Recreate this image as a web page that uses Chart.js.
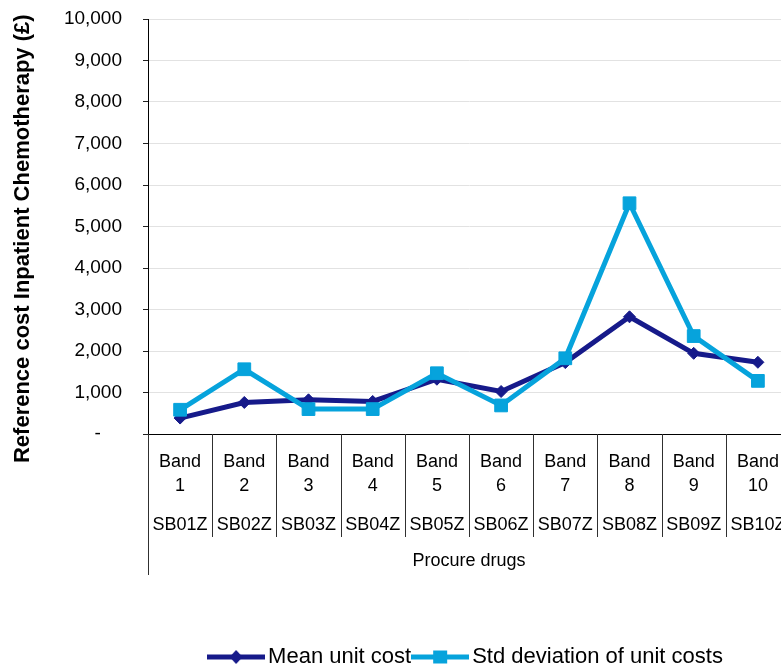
<!DOCTYPE html>
<html>
<head>
<meta charset="utf-8">
<title>Reference cost Inpatient Chemotherapy</title>
<script src="https://cdn.jsdelivr.net/npm/chart.js@4.4.1/dist/chart.umd.min.js"></script>
<style>
  html, body { margin: 0; padding: 0; background: #fff; overflow: hidden; }
  #wrap { position: relative; width: 800px; height: 678px; }
</style>
</head>
<body>
<div id="wrap"><canvas id="chart" width="800" height="678"></canvas></div>
<script>
// Chemotherapy bands (two-line labels) and their HRG codes
const bandLabels = [
  ['Band', '1'], ['Band', '2'], ['Band', '3'], ['Band', '4'], ['Band', '5'],
  ['Band', '6'], ['Band', '7'], ['Band', '8'], ['Band', '9'], ['Band', '10']
];
const codeLabels = ['SB01Z', 'SB02Z', 'SB03Z', 'SB04Z', 'SB05Z', 'SB06Z', 'SB07Z', 'SB08Z', 'SB09Z', 'SB10Z'];
const groupTitle = 'Procure drugs';

// Reference cost per band (£)
const meanUnitCost = [384, 760, 824, 784, 1320, 1024, 1720, 2824, 1944, 1728];
const stdDevUnitCost = [584, 1560, 600, 600, 1464, 688, 1824, 5560, 2360, 1280];
const seriesNames = ['Mean unit cost', 'Std deviation of unit costs'];

// Value axis
const yTickLabels = ['-', '1,000', '2,000', '3,000', '4,000', '5,000', '6,000', '7,000', '8,000', '9,000', '10,000'];
const yTitle = 'Reference cost Inpatient Chemotherapy (£)';

const FONT = "'Liberation Sans', Arial, sans-serif";
const NAVY = '#161a8a';
const CYAN = '#06a3dc';

// Legend symbol: a short line with the series marker in the middle
function legendSymbol(color, marker) {
  const c = document.createElement('canvas');
  c.width = 58; c.height = 16;
  const g = c.getContext('2d');
  g.strokeStyle = color; g.fillStyle = color; g.lineWidth = 5;
  g.beginPath(); g.moveTo(0, 8); g.lineTo(58, 8); g.stroke();
  g.beginPath();
  if (marker === 'diamond') {
    g.moveTo(29, 1); g.lineTo(35.5, 8); g.lineTo(29, 15); g.lineTo(22.5, 8);
  } else {
    g.rect(22, 1.5, 14, 13);
  }
  g.closePath(); g.fill();
  return c;
}
const symbols = [legendSymbol(NAVY, 'diamond'), legendSymbol(CYAN, 'square')];

// Vertical dividers between the band columns under the x axis
const bandDividers = {
  id: 'bandDividers',
  afterDraw(chart) {
    const { ctx, chartArea, scales } = chart;
    const x = scales.x, x2 = scales.x2;
    const n = x.ticks.length;
    const half = (x.getPixelForTick(1) - x.getPixelForTick(0)) / 2;
    const rowBottom = x2.top + 23;
    ctx.save();
    ctx.strokeStyle = '#303030';
    ctx.lineWidth = 1;
    ctx.beginPath();
    for (let i = 1; i <= n; i++) {
      const px = Math.round(x.getPixelForTick(i - 1) + half) + 0.5;
      ctx.moveTo(px, chartArea.bottom);
      ctx.lineTo(px, rowBottom);
    }
    const left = Math.round(chartArea.left - 0.5) + 0.5;
    ctx.moveTo(left, chartArea.bottom);
    ctx.lineTo(left, x2.top + 61);
    ctx.stroke();
    ctx.restore();
  }
};

new Chart(document.getElementById('chart'), {
  type: 'line',
  data: {
    labels: bandLabels,
    datasets: [
      {
        label: seriesNames[0],
        data: meanUnitCost,
        borderColor: NAVY,
        backgroundColor: NAVY,
        borderWidth: 5,
        pointStyle: 'rectRot',
        pointRadius: 6,
        pointBorderWidth: 1,
        pointBorderColor: NAVY,
        pointBackgroundColor: NAVY,
        tension: 0,
        order: 1
      },
      {
        label: seriesNames[1],
        data: stdDevUnitCost,
        borderColor: CYAN,
        backgroundColor: CYAN,
        borderWidth: 5,
        pointStyle: 'rect',
        pointRadius: 9,
        pointBorderWidth: 1,
        pointBorderColor: CYAN,
        pointBackgroundColor: CYAN,
        tension: 0,
        order: 0
      }
    ]
  },
  options: {
    responsive: false,
    animation: false,
    events: [],
    layout: { padding: { left: 0, right: 7, top: 19, bottom: 0 } },
    plugins: {
      tooltip: { enabled: false },
      legend: {
        position: 'bottom',
        fullSize: false,
        align: 'center',
        labels: {
          usePointStyle: true,
          pointStyleWidth: 42,
          padding: 8,
          color: '#000',
          font: { family: FONT, size: 22 },
          generateLabels: () => seriesNames.map((name, i) => ({
            text: name,
            pointStyle: symbols[i],
            fillStyle: i ? CYAN : NAVY,
            strokeStyle: i ? CYAN : NAVY,
            lineWidth: 0,
            hidden: false,
            datasetIndex: i
          }))
        }
      }
    },
    scales: {
      x: {
        type: 'category',
        position: 'bottom',
        offset: true,
        grid: { display: false, drawTicks: false },
        border: { display: true, color: '#000', width: 1 },
        ticks: {
          autoSkip: false,
          maxRotation: 0,
          minRotation: 0,
          padding: 16,
          color: '#000',
          font: { family: FONT, size: 18, lineHeight: 24 / 18 }
        }
      },
      x2: {
        type: 'category',
        position: 'bottom',
        weight: 1,
        labels: codeLabels,
        offset: true,
        grid: { display: false, drawTicks: false },
        border: { display: false },
        ticks: {
          autoSkip: false,
          maxRotation: 0,
          minRotation: 0,
          padding: 0,
          color: '#000',
          font: { family: FONT, size: 18, lineHeight: 22 / 18 }
        },
        title: {
          display: true,
          text: groupTitle,
          color: '#000',
          font: { family: FONT, size: 18, lineHeight: 22 / 18 },
          padding: { top: 14, bottom: 66 }
        }
      },
      y: {
        min: 0,
        max: 10000,
        afterFit(scale) {
          scale.width = 148;
          scale.paddingTop = 0;
          scale.paddingBottom = 0;
        },
        grid: {
          color: '#e2e2e2',
          lineWidth: 1,
          drawTicks: true,
          tickLength: 5,
          tickColor: '#202020'
        },
        border: { display: true, color: '#000', width: 1 },
        ticks: {
          stepSize: 1000,
          padding: 21,
          color: '#000',
          font: { family: FONT, size: 19 },
          callback: (value, index) => index === 0 ? yTickLabels[0] + '    ' : yTickLabels[index]
        },
        title: {
          display: true,
          text: yTitle + '    ',
          color: '#000',
          font: { family: FONT, size: 22, weight: 'bold', lineHeight: 1.2 },
          padding: { top: 10, bottom: 0 }
        }
      }
    }
  },
  plugins: [bandDividers]
});
</script>
</body>
</html>
